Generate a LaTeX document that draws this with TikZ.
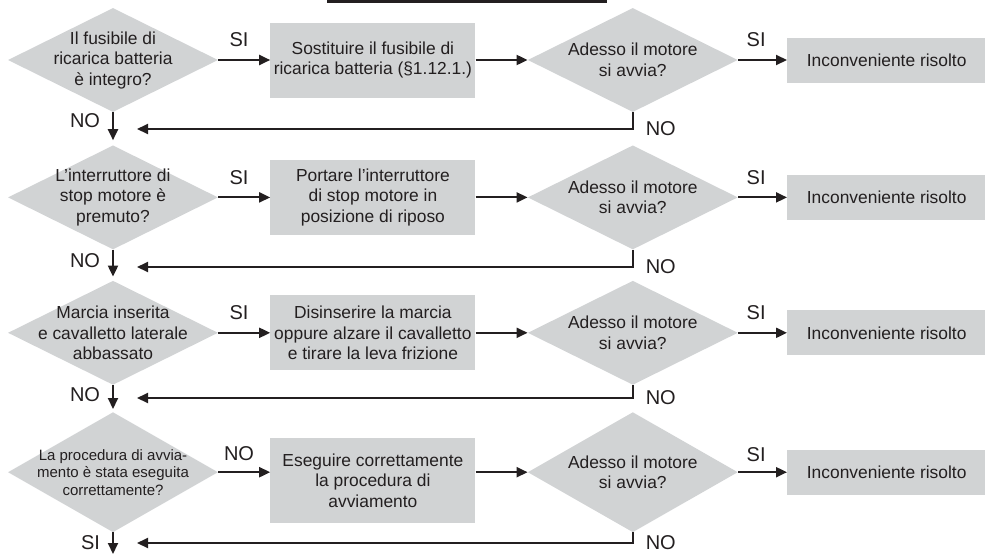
\documentclass[tikz,border=0pt]{standalone}
\usepackage{fontspec}
\setmainfont{Liberation Sans}
\usepackage{xcolor}
\usepackage{tikz}
\usetikzlibrary{positioning,arrows.meta,shapes.geometric}
\definecolor{boxgray}{RGB}{209,211,212}
\definecolor{ink}{RGB}{35,31,32}

\begin{document}
\begin{tikzpicture}[x=1pt,y=-1pt,
 ask/.style={diamond,fill=boxgray,align=center,shape aspect=2,inner sep=-14pt,minimum width=210pt,minimum height=104pt},
 act/.style={rectangle,fill=boxgray,align=center,inner xsep=2pt,minimum width=205pt,minimum height=75pt},
 done/.style={act,minimum width=199pt,minimum height=45pt},
 lbl/.style={inner sep=0pt,font=\fontsize{20pt}{22pt}\selectfont},
 arr/.style={-{Triangle[length=11pt,width=10pt]},line width=2pt,draw=ink},
 text=ink,font=\fontsize{17.4pt}{20.5pt}\selectfont]
\useasboundingbox (0,0) rectangle (985,555);
\fill[ink] (327,0) rectangle (607,3);
% row 1
\node[ask] (q1) at (113,60) {Il fusibile di\\ricarica batteria\\è integro?};
\node[act,right=52pt of q1] (fix1) {Sostituire il fusibile di\\ricarica batteria (§1.12.1.)};
\node[ask,right=52pt of fix1] (chk1) {Adesso il motore\\si avvia?};
\node[done,right=49pt of chk1] (ok1) {Inconveniente risolto};
% row 2
\node[ask,below=33pt of q1] (q2) {L’interruttore di\\stop motore è\\premuto?};
\node[act,right=52pt of q2] (fix2) {Portare l’interruttore\\di stop motore in\\posizione di riposo};
\node[ask,right=52pt of fix2] (chk2) {Adesso il motore\\si avvia?};
\node[done,right=49pt of chk2] (ok2) {Inconveniente risolto};
% row 3
\node[ask,below=31pt of q2] (q3) {Marcia inserita\\e cavalletto laterale\\abbassato};
\node[act,right=52pt of q3] (fix3) {Disinserire la marcia\\oppure alzare il cavalletto\\e tirare la leva frizione};
\node[ask,right=52pt of fix3] (chk3) {Adesso il motore\\si avvia?};
\node[done,right=49pt of chk3] (ok3) {Inconveniente risolto};
% row 4
\node[ask,minimum height=120pt,font=\fontsize{15pt}{17.5pt}\selectfont,below=27pt of q3] (q4) {La procedura di avvia-\\mento è stata eseguita\\correttamente?};
\node[act,minimum height=85pt,right=52pt of q4,yshift=-8.5pt] (fix4) {Eseguire correttamente\\la procedura di\\avviamento};
\node[ask,minimum height=120pt,right=52pt of fix4,yshift=8.5pt] (chk4) {Adesso il motore\\si avvia?};
\node[done,right=49pt of chk4] (ok4) {Inconveniente risolto};
% loose ends of the return lines
\coordinate (back1) at (137,129); \coordinate (back2) at (137,267);
\coordinate (back3) at (137,398); \coordinate (back4) at (137,543);
\coordinate (out) at (113,554);
% connectors
\draw[arr] (q1) -- node[lbl,pos=0.4,above=12pt]{SI} (fix1); \draw[arr] (fix1) -- (chk1);
\draw[arr] (chk1) -- node[lbl,pos=0.37,above=12pt]{SI} (ok1);
\draw[arr,shorten >=5pt] (q1) -- node[lbl,pos=0.25,left=12pt]{NO} (q2);
\draw[arr] (chk1.south) |- node[lbl,pos=0.5,right=12pt]{NO} (back1);
\draw[arr] (q2) -- node[lbl,pos=0.4,above=12pt]{SI} (fix2); \draw[arr] (fix2) -- (chk2);
\draw[arr] (chk2) -- node[lbl,pos=0.37,above=12pt]{SI} (ok2);
\draw[arr,shorten >=4pt] (q2) -- node[lbl,pos=0.35,left=12pt]{NO} (q3);
\draw[arr] (chk2.south) |- node[lbl,pos=0.5,right=12pt]{NO} (back2);
\draw[arr] (q3) -- node[lbl,pos=0.4,above=12pt]{SI} (fix3); \draw[arr] (fix3) -- (chk3);
\draw[arr] (chk3) -- node[lbl,pos=0.37,above=12pt]{SI} (ok3);
\draw[arr,shorten >=3pt] (q3) -- node[lbl,pos=0.35,left=12pt]{NO} (q4);
\draw[arr] (chk3.south) |- node[lbl,pos=0.5,right=12pt]{NO} (back3);
\draw[arr] (q4) -- node[lbl,pos=0.4,above=11pt]{NO} (q4 -| fix4.west);
\draw[arr] (fix4.east |- chk4) -- (chk4);
\draw[arr] (chk4) -- node[lbl,pos=0.37,above=10pt]{SI} (ok4);
\draw[arr] (q4) -- node[lbl,pos=0.45,left=12pt]{SI} (out);
\draw[arr] (chk4.south) |- node[lbl,pos=0.5,right=12pt]{NO} (back4);
\end{tikzpicture}
\end{document}
